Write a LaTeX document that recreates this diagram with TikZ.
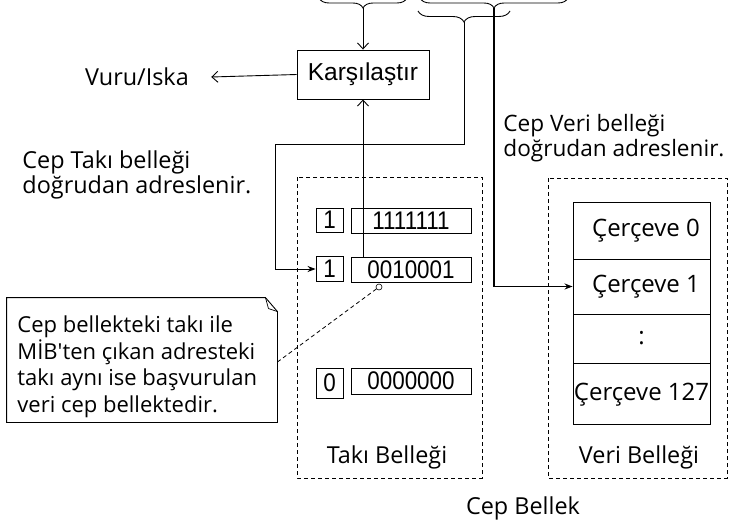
\documentclass[tikz,border=0pt]{standalone}
\usepackage{fontspec}
\setmainfont{Liberation Sans}
\newfontfamily\comicf{Open Sans}
\newfontfamily\digitf[FakeStretch=0.88]{Liberation Sans}
\usetikzlibrary{arrows.meta,decorations.pathreplacing}
\begin{document}
\begin{tikzpicture}[x=1pt,y=-1pt,line width=0.9pt,
  comic/.style={font=\comicf\fontsize{23.4}{25}\selectfont, inner sep=0pt},
  callouttext/.style={font=\comicf\fontsize{22}{26.5}\selectfont, inner sep=0pt, align=left},
  digits/.style={font=\digitf\fontsize{25.5}{26}\selectfont, draw, inner sep=0pt},
  openarr/.style={-{Straight Barb[length=6pt,width=11pt]}},
  fillarr/.style={-{Stealth[length=8pt,width=6pt]}},
  bracestyle/.style={decorate, decoration={brace, amplitude=#1}},
  dbox/.style={dash pattern=on 4pt off 3pt},
  frame/.style={draw, minimum width=137pt, inner sep=0pt, font=\comicf\fontsize{24}{25}\selectfont}]
\useasboundingbox (0,0) rectangle (730,525);

% top braces
\draw[bracestyle=10pt] (407,-2) -- (319,-2);
\draw[bracestyle=10pt] (568,-2) -- (420,-2);
\draw[bracestyle=11pt] (510,11) -- (418,11);
\coordinate (b1) at (363,8);
\coordinate (b2) at (494,8);
\coordinate (b3) at (464,22);

% comparator
\node[draw, minimum width=132pt, minimum height=49pt, inner sep=0pt,
      font=\fontsize{24.5}{26}\selectfont] (cmp) at (363,74.5) {Karşılaştır};
\node[comic] (vi) at (137,77) {Vuru/Iska};

\node[comic, anchor=west, align=left] (ctl) at (22,175) {Cep Takı belleği\\doğrudan adreslenir.};
\node[comic, anchor=west, align=left, font=\comicf\fontsize{22.6}{25}\selectfont] (cvl) at (503,138) {Cep Veri belleği\\doğrudan adreslenir.};

% tag memory
\draw[dbox] (297,177) rectangle (482,478);
\node[digits, minimum width=27pt, minimum height=24pt] (v1) at (329.5,220) {1};
\node[digits, minimum width=120pt, minimum height=25pt] (t1) at (411,220.5) {1111111};
\node[digits, minimum width=27pt, minimum height=25pt] (v2) at (329.5,269) {1};
\node[digits, minimum width=120pt, minimum height=25pt] (t2) at (411,269.5) {0010001};
\node[digits, minimum width=27pt, minimum height=30pt] (v3) at (329.5,383) {0};
\node[digits, minimum width=120pt, minimum height=26pt] (t3) at (411,381) {0000000};
\node[comic] (tb) at (387,457) {Takı Belleği};

% data memory
\draw[dbox] (548,178) rectangle (727,478);
\node[frame, minimum height=57pt] (f0) at (641.5,230.5) {\hspace{9pt}Çerçeve 0};
\node[frame, minimum height=55pt] (f1) at (641.5,286.5) {\hspace{9pt}Çerçeve 1};
\node[frame, minimum height=49pt] (f2) at (641.5,338.5) {:};
\node[frame, minimum height=61pt, text depth=0pt] (f3) at (641.5,393.5) {\raisebox{3pt}{Çerçeve 127}};
\node[comic] (vb) at (639,457) {Veri Belleği};
\node[comic] (cb) at (523,508) {Cep Bellek};

% callout
\node[minimum width=270pt, minimum height=124pt, inner sep=0pt] (co) at (142,360) {};
\draw[fill=white] (co.north west) -- ([xshift=-12pt]co.north east) -- ([yshift=-14pt]co.north east)
   -- (co.south east) -- (co.south west) -- cycle;
\draw[line width=0.7pt] ([xshift=-12pt]co.north east) -- ([xshift=-9pt,yshift=-11pt]co.north east) -- ([yshift=-14pt]co.north east);
\node[callouttext, anchor=west] (ct) at (17,367) {Cep bellekteki takı ile\\MİB'ten çıkan adresteki\\takı aynı ise başvurulan\\veri cep bellektedir.};
\node[circle, draw, fill=white, inner sep=0pt, minimum size=6pt, line width=0.6pt] (circ) at (379,287) {};
\draw[dbox, line width=0.8pt] (circ) -- ([yshift=-2pt]co.east);

% connectors
\draw[openarr] (b1) -- (cmp.north);
\draw[openarr] (cmp.west) -- ([xshift=22pt]vi.east);
\draw[openarr] (cmp.south |- t2.north) -- (cmp.south);
\coordinate (k1) at (275,144);
\draw[fillarr] (b3) |- (k1) |- (v2.west);
\draw[fillarr, line width=1.3pt] (b2) |- (f1.west);
\end{tikzpicture}
\end{document}
